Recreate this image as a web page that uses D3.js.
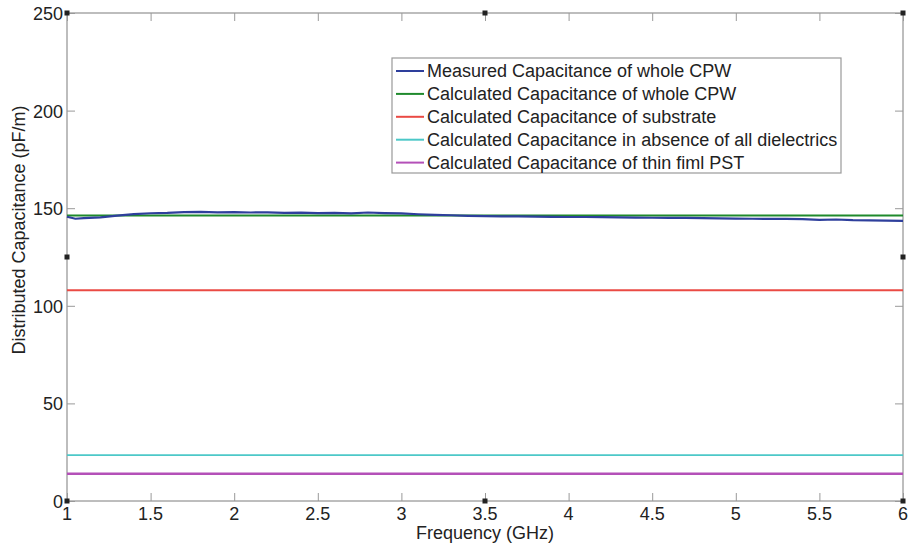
<!DOCTYPE html>
<html>
<head>
<meta charset="utf-8">
<script src="https://cdn.jsdelivr.net/npm/d3@7"></script>
<style>
  body { margin: 0; background: #fff; }
  svg text { font-family: "Liberation Sans", Arial, sans-serif; fill: #222; }
</style>
</head>
<body>
<svg id="chart" width="909" height="547"></svg>
<script>
// data
const freq = [1.0, 1.05, 1.1, 1.2, 1.3, 1.4, 1.5, 1.6, 1.7, 1.8, 1.9, 2.0, 2.1, 2.2, 2.3, 2.4, 2.5, 2.6, 2.7, 2.8, 2.9, 3.0,
    3.1, 3.2, 3.3, 3.4, 3.5, 3.6, 3.7, 3.8, 3.9, 4.0, 4.1, 4.2, 4.3, 4.4, 4.5, 4.6, 4.7, 4.8, 4.9, 5.0,
    5.1, 5.2, 5.3, 5.4, 5.5, 5.6, 5.7, 5.8, 5.9, 6.0];
const measured = [145.6, 144.6, 144.9, 145.3, 146.2, 147.0, 147.4, 147.6, 148.0, 148.1, 147.9, 148.0, 147.8, 147.9, 147.6, 147.7, 147.5, 147.6, 147.4, 147.8, 147.5, 147.3,
    146.9, 146.6, 146.4, 146.1, 145.9, 145.8, 145.8, 145.7, 145.6, 145.5, 145.5, 145.4, 145.3, 145.2, 145.1, 145.0, 145.0, 144.9, 144.8, 144.7,
    144.6, 144.5, 144.5, 144.4, 144.0, 144.2, 143.9, 143.8, 143.6, 143.5];
const calcWhole = 146.3;
const calcSubstrate = 108;
const calcAir = 23.5;
const calcPST = 14;
const xTicks = [1, 1.5, 2, 2.5, 3, 3.5, 4, 4.5, 5, 5.5, 6];
const yTicks = [0, 50, 100, 150, 200, 250];
const legendLabels = [
    "Measured Capacitance of whole CPW",
    "Calculated Capacitance of whole CPW",
    "Calculated Capacitance of substrate",
    "Calculated Capacitance in absence of all dielectrics",
    "Calculated Capacitance of thin fiml PST"
];
const colors = ["#2e3f9c", "#1f8a2c", "#ea4a44", "#4cc8c8", "#b450b8"];

const svg = d3.select("#chart");
const mLeft = 67, mRight = 903, mTop = 13, mBottom = 501;

const x = d3.scaleLinear().domain([1, 6]).range([mLeft, mRight]);
const y = d3.scaleLinear().domain([0, 250]).range([mBottom, mTop]);

// frame
svg.append("rect")
    .attr("x", mLeft).attr("y", mTop)
    .attr("width", mRight - mLeft).attr("height", mBottom - mTop)
    .attr("fill", "none").attr("stroke", "#a8a8a8").attr("stroke-width", 1.5);

// axes with inward ticks on all four sides
const tickAxis = (axis, tx, ty) => {
    svg.append("g")
        .attr("transform", `translate(${tx},${ty})`)
        .call(axis.tickSize(8).tickFormat(""))
        .call((g) => g.select(".domain").remove())
        .selectAll("line").attr("stroke", "#999");
};
tickAxis(d3.axisTop(x).tickValues(xTicks), 0, mBottom);
tickAxis(d3.axisBottom(x).tickValues(xTicks), 0, mTop);
tickAxis(d3.axisRight(y).tickValues(yTicks), mLeft, 0);
tickAxis(d3.axisLeft(y).tickValues(yTicks), mRight, 0);

// tick labels
svg.append("g").selectAll("text")
    .data(xTicks).enter().append("text")
    .attr("x", (d) => x(d)).attr("y", mBottom + 19)
    .attr("text-anchor", "middle")
    .attr("font-size", 18)
    .text((d) => d);
svg.append("g").selectAll("text")
    .data(yTicks).enter().append("text")
    .attr("x", mLeft - 4).attr("y", (d) => y(d) + 7)
    .attr("text-anchor", "end")
    .attr("font-size", 18)
    .text((d) => d);

// axis labels
svg.append("text")
    .attr("x", x(3.5)).attr("y", mBottom + 38)
    .attr("text-anchor", "middle")
    .attr("font-size", 18)
    .text("Frequency (GHz)");
svg.append("text")
    .attr("transform", "translate(25,230) rotate(-90)")
    .attr("text-anchor", "middle")
    .attr("font-size", 18)
    .text("Distributed Capacitance (pF/m)");

// lines
const line = d3.line().x((d) => x(d[0])).y((d) => y(d[1]));
const flat = (v) => [[1, v], [6, v]];
const series = [
    { pts: freq.map((f, i) => [f, measured[i]]), w: 2.2 },
    { pts: flat(calcWhole), w: 2 },
    { pts: flat(calcSubstrate), w: 2 },
    { pts: flat(calcAir), w: 1.6 },
    { pts: flat(calcPST), w: 2.5 }
];
// draw measured after green so it sits on top like the original
[1, 0, 2, 3, 4].forEach((i) => {
    svg.append("path")
        .attr("d", line(series[i].pts))
        .attr("fill", "none")
        .attr("stroke", colors[i])
        .attr("stroke-width", series[i].w);
});

// legend
const lg = svg.append("g").attr("transform", "translate(392,58)");
lg.append("rect")
    .attr("width", 449).attr("height", 115)
    .attr("fill", "#fff").attr("stroke", "#999").attr("stroke-width", 1.2);
legendLabels.forEach((label, i) => {
    const ly = 13 + i * 22.9;
    lg.append("line")
        .attr("x1", 4).attr("x2", 32).attr("y1", ly).attr("y2", ly)
        .attr("stroke", colors[i]).attr("stroke-width", 2);
    lg.append("text")
        .attr("x", 35).attr("y", ly + 6)
        .attr("font-size", 18)
        .text(label);
});

// selection handles of the exported figure
const handles = [[mLeft, mTop], [x(3.5), mTop], [mRight, mTop], [mLeft, y(125)], [mRight, y(125)],
    [mLeft, mBottom], [x(3.5), mBottom], [mRight, mBottom]];
svg.append("g").selectAll("rect")
    .data(handles).enter().append("rect")
    .attr("x", (d) => d[0] - 2.5).attr("y", (d) => d[1] - 2.5)
    .attr("width", 5).attr("height", 5)
    .attr("fill", "#222");
</script>
</body>
</html>
